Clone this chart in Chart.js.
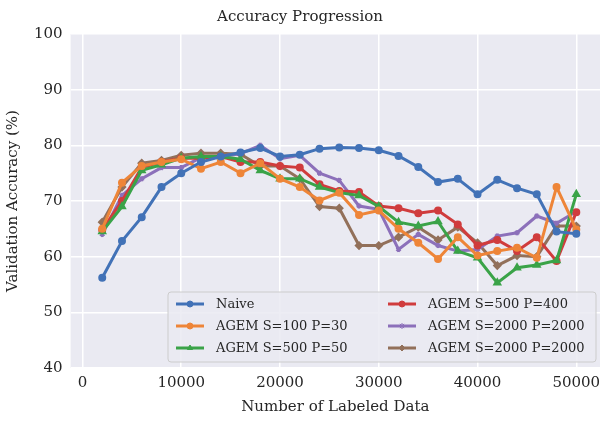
<!DOCTYPE html>
<html><head><meta charset="utf-8">
<script src="https://cdn.jsdelivr.net/npm/chart.js@4"></script>
<style>html,body{margin:0;background:#fff}#wrap{width:612px;height:426px}</style>
</head><body><div id="wrap"><canvas id="c"></canvas></div>
<script>
const labeledData = [2000,4000,6000,8000,10000,12000,14000,16000,18000,20000,22000,24000,26000,28000,30000,32000,34000,36000,38000,40000,42000,44000,46000,48000,50000];
const naive = [56.2,62.8,67.1,72.5,75,77,78,78.7,79.5,78,78.3,79.4,79.6,79.5,79.1,78.1,76.1,73.4,74,71.2,73.8,72.3,71.2,64.5,64.1];
const agem100 = [65,73.3,76.3,77,77.5,75.8,77,75,76.8,74,72.5,70.1,71.5,67.5,68.3,65,62.5,59.6,63.5,60.2,61,61.6,59.8,72.5,64.9];
const agem500p50 = [64.5,69,75.5,76.5,77.7,78,78,77.5,75.5,74,74,72.5,71.5,71,69,66.2,65.5,66.3,61,59.8,55.3,58,58.5,59.3,71.2];
const agem500p400 = [64.8,70,76,77,77.7,77.7,78,77,77,76.3,76,73,71.8,71.6,69.1,68.7,67.8,68.3,65.8,62,63,61,63.5,59.2,68];
const agem2000a = [64,71,74,76,76,77.8,78,78.5,80,77.6,78.2,75,73.7,69.1,68.5,61.3,64,62,61,61.3,63.7,64.3,67.3,66,68.1];
const agem2000b = [66.2,72.5,76.8,77.3,78.2,78.6,78.6,78.4,76.3,76.3,74,69,68.7,62,62,63.5,65.3,63,65.3,62.5,58.4,60.2,60,65.5,65.5];
const xTicks = [0,10000,20000,30000,40000,50000];
const yTicks = [40,50,60,70,80,90,100];

const series = [
  ['Naive', naive, '#4272b7', 'circle'],
  ['AGEM S=100 P=30', agem100, '#ee8538', 'circle'],
  ['AGEM S=500 P=50', agem500p50, '#3aa348', 'triangle'],
  ['AGEM S=500 P=400', agem500p400, '#d03c3d', 'circle'],
  ['AGEM S=2000 P=2000', agem2000a, '#8c70ba', 'star'],
  ['AGEM S=2000 P=2000', agem2000b, '#92705a', 'rectRot'],
];
const FONT = "'DejaVu Serif', serif";

const bgPlugin = {
  id: 'bg',
  beforeDraw(chart) {
    const a = chart.chartArea, ctx = chart.ctx;
    ctx.save(); ctx.fillStyle = '#eaeaf2';
    ctx.fillRect(a.left, a.top, a.right - a.left, a.bottom - a.top);
    ctx.restore();
  },
};

const legendPlugin = {
  id: 'boxLegend',
  afterDraw(chart) {
    const ctx = chart.ctx;
    const x0 = 168, y0 = 292, w = 428, h = 70;
    ctx.save();
    ctx.fillStyle = 'rgba(234,234,242,0.85)';
    ctx.strokeStyle = '#cccccc';
    ctx.lineWidth = 1;
    ctx.beginPath(); ctx.roundRect(x0, y0, w, h, 3); ctx.fill(); ctx.stroke();
    ctx.font = '13px ' + FONT;
    ctx.textBaseline = 'middle';
    chart.data.datasets.forEach((ds, i) => {
      const col = i < 3 ? 0 : 1, row = i % 3;
      const lx = x0 + 8 + col * 212, ly = y0 + 12 + row * 22;
      ctx.strokeStyle = ds.borderColor; ctx.lineWidth = 3;
      ctx.beginPath(); ctx.moveTo(lx, ly); ctx.lineTo(lx + 28, ly); ctx.stroke();
      ctx.fillStyle = ds.borderColor; ctx.lineWidth = 1;
      Chart.helpers.drawPoint(ctx, { pointStyle: ds.pointStyle, radius: 3, borderWidth: 1 }, lx + 14, ly);
      ctx.fillStyle = '#262626';
      ctx.fillText(ds.label, lx + 40, ly + 1);
    });
    ctx.restore();
  },
};

new Chart(document.getElementById('c'), {
  type: 'line',
  data: {
    datasets: series.map(([label, vals, color, ps]) => ({
      label,
      data: labeledData.map((x, i) => ({ x, y: vals[i] })),
      borderColor: color,
      backgroundColor: color,
      pointBackgroundColor: color,
      pointBorderColor: color,
      borderWidth: 3,
      pointStyle: ps,
      pointRadius: 2.5,
      tension: 0,
    })),
  },
  options: {
    animation: false,
    responsive: true,
    maintainAspectRatio: false,
    layout: { padding: { right: 12, top: 2, bottom: 6 } },
    plugins: {
      legend: { display: false },
      title: { display: true, text: 'Accuracy Progression', color: '#262626', font: { family: FONT, size: 15, weight: 'normal' }, padding: { top: 6, bottom: 8 } },
      tooltip: { enabled: false },
    },
    scales: {
      x: {
        type: 'linear', min: -1200, max: 52400,
        afterBuildTicks: (s) => { s.ticks = xTicks.map((v) => ({ value: v })); },
        grid: { color: '#ffffff', lineWidth: 1.5, drawTicks: false },
        border: { display: false },
        ticks: { color: '#262626', font: { family: FONT, size: 15 }, padding: 6, callback: (v) => String(v) },
        title: { display: true, text: 'Number of Labeled Data', color: '#262626', font: { family: FONT, size: 15 }, padding: { top: 0 } },
      },
      y: {
        min: 40, max: 100,
        afterBuildTicks: (s) => { s.ticks = yTicks.map((v) => ({ value: v })); },
        grid: { color: '#ffffff', lineWidth: 1.5, drawTicks: false },
        border: { display: false },
        ticks: { color: '#262626', font: { family: FONT, size: 15 }, padding: 8 },
        title: { display: true, text: 'Validation Accuracy (%)', color: '#262626', font: { family: FONT, size: 15 } },
      },
    },
  },
  plugins: [bgPlugin, legendPlugin],
});
</script></body></html>
